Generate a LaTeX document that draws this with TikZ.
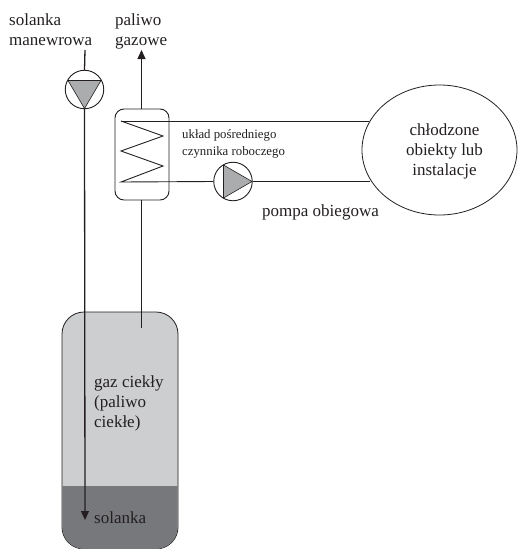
\documentclass[tikz,border=0pt]{standalone}
\usepackage{fontspec}
\setmainfont{Liberation Serif}
\usetikzlibrary{arrows.meta,shapes.geometric}
\definecolor{ink}{HTML}{231F20}
\definecolor{tanklight}{HTML}{CDCED0}
\definecolor{tankdark}{HTML}{77787B}
\definecolor{pumpfill}{HTML}{ABACAE}
\tikzset{
  pipe/.style={draw=ink, line width=1.3pt},
  thinpipe/.style={draw=ink, line width=0.9pt},
  flow/.style={pipe, -{Triangle[length=9pt,width=8pt]}},
  pumpbox/.style={circle, draw=ink, line width=0.9pt, minimum size=38.5pt, inner sep=0pt},
  wedge/.style={draw=ink, line width=0.6pt, fill=pumpfill},
  txt/.style={text=ink, align=left, anchor=north west, inner sep=0pt, font=\fontsize{17}{20}\selectfont},
  smalltxt/.style={txt, font=\fontsize{12.8}{17}\selectfont}
}
\begin{document}
\begin{tikzpicture}[x=1pt,y=-1pt]
  \useasboundingbox (0, 0) rectangle (517, 549);
  % tank
  \node (tank) [draw=ink, line width=0.8pt, fill=tanklight, rounded corners=22pt, minimum width=116pt, minimum height=237pt, inner sep=0pt] at (120, 430.5) {};
  \fill [tankdark] (62.4, 486) [rounded corners=22pt] -- (62.4, 549) -- (177.6, 549) [sharp corners] -- (177.6, 486) -- cycle;
  \node (liquid) [txt] at (94, 375) {gaz ciekły\\(paliwo\\ciekłe)};
  \node (brine) [txt] at (94, 511) {solanka};
  % heat exchanger and pumps
  \node (hx) [draw=ink, line width=0.9pt, rounded corners=9pt, minimum width=54pt, minimum height=91pt, inner sep=0pt] at (142, 154.5) {};
  \node (pumpleft) [pumpbox] at (84.5, 89.5) {};
  \node (pumpright) [pumpbox] at (233, 181.5) {};
  \draw [wedge] (68, 80.5) -- (101, 80.5) -- (84.5, 108.5) -- cycle;
  \draw [wedge] (223.5, 165) -- (223.5, 198) -- (252, 181.5) -- cycle;
  \node (objects) [ellipse, draw=ink, line width=0.8pt, minimum width=155pt, minimum height=130pt, inner sep=0pt] at (439.5, 150) {};
  \node (objtext) [text=ink, align=center, inner sep=0pt, font=\fontsize{17}{20}\selectfont] at (444.5, 151) {chłodzone\\obiekty lub\\instalacje};
  % pipes
  \coordinate (brinetop) at (85, 50);
  \coordinate (brineend) at (85, 520);
  \coordinate (fueltop) at (141.5, 50);
  \coordinate (fuelend) at (141.5, 328);
  \coordinate (coilin) at (121, 121);
  \coordinate (coilout) at (121, 182);
  \coordinate (objin) at (369, 121);
  \coordinate (objout) at (370, 181.5);
  \draw [pipe] (brinetop) -- (pumpleft.north);
  \draw [flow] (pumpleft.south) -- (brineend);
  \draw [flow] (hx.north -| fueltop) -- (fueltop);
  \draw [pipe] (hx.south -| fuelend) -- (fuelend);
  \draw [thinpipe] (coilin) -- (163, 136) -- (121, 151) -- (163, 166) -- (coilout) -- (pumpright.west);
  \draw [thinpipe] (coilin) -- (objin);
  \draw [thinpipe] (pumpright.east) -- (objout);
  % labels
  \node (manoeuvre) [txt] at (9, 14) {solanka\\manewrowa};
  \node (gasfuel) [txt] at (115, 14) {paliwo\\gazowe};
  \node (circuit) [smalltxt] at (182, 129) {układ pośredniego\\czynnika roboczego};
  \node (circpump) [txt] at (262, 205) {pompa obiegowa};
\end{tikzpicture}
\end{document}
